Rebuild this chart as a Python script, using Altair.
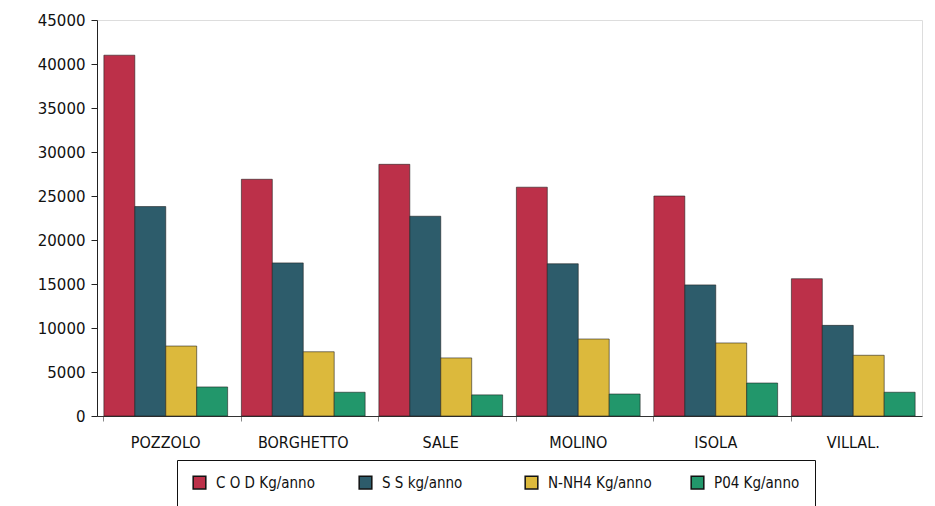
import altair as alt
import pandas as pd

sites = ["POZZOLO", "BORGHETTO", "SALE", "MOLINO", "ISOLA", "VILLAL."]
series = ["C O D Kg/anno", "S S  kg/anno", "N-NH4 Kg/anno", "P04 Kg/anno"]
cod = [41000, 26900, 28600, 26000, 25000, 15600]
ss = [23800, 17400, 22700, 17300, 14900, 10300]
nh4 = [7950, 7300, 6600, 8750, 8300, 6900]
po4 = [3300, 2700, 2400, 2500, 3750, 2700]
colors = ["#bc3049", "#2d5c6b", "#dcb93c", "#22976b"]

rows = []
for i, s in enumerate(sites):
    for name, vals in zip(series, [cod, ss, nh4, po4]):
        rows.append({"site": s, "series": name, "value": vals[i]})
df = pd.DataFrame(rows)

narrow = "DejaVu Sans Condensed, DejaVu Sans, sans-serif"

chart = alt.Chart(df).mark_bar(stroke="#1a1a1a", strokeWidth=0.8, strokeOpacity=0.7).encode(
    x=alt.X("site:N", sort=sites, title=None,
            scale=alt.Scale(paddingInner=0.1, paddingOuter=0.05),
            axis=alt.Axis(labelAngle=0, labelFont=narrow, labelFontSize=16,
                          labelColor="#111", labelPadding=13, domainColor="#333",
                          tickColor="#888", tickSize=5, bandPosition=0)),
    xOffset=alt.XOffset("series:N", sort=series, scale=alt.Scale(paddingInner=0)),
    y=alt.Y("value:Q", title=None,
            scale=alt.Scale(domain=[0, 45000], nice=False),
            axis=alt.Axis(values=list(range(0, 45001, 5000)), grid=False, format="d",
                          labelFont="DejaVu Sans", labelFontSize=15, labelColor="#111",
                          domainColor="#222", tickColor="#222", tickSize=6, labelPadding=6)),
    color=alt.Color("series:N", sort=series, scale=alt.Scale(domain=series, range=colors),
                    legend=alt.Legend(title=None, orient="none", legendX=80, legendY=440,
                                      direction="horizontal", columns=4, gridAlign="all",
                                      symbolType="square", symbolSize=160,
                                      symbolStrokeColor="#111", symbolStrokeWidth=1.5,
                                      labelFont=narrow, labelFontSize=15, labelOffset=9,
                                      labelColor="#111", columnPadding=36,
                                      strokeColor="#111", padding=15,
                                      fillColor="white")),
).properties(
    width=825, height=396,
    autosize=alt.AutoSizeParams(type="none"),
    padding={"left": 97, "top": 20, "right": 13, "bottom": 90},
).configure_view(stroke=None).configure(background="white")

chart.save("out.html", embed_options={"renderer": "svg", "actions": False})
